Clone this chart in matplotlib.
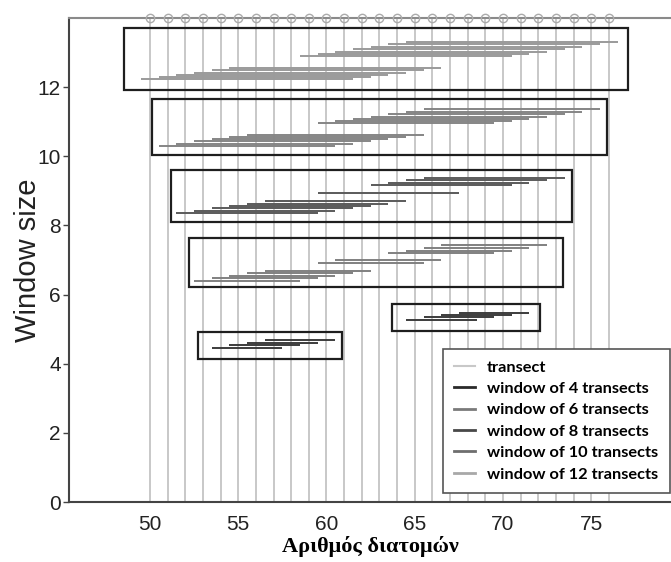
import matplotlib
matplotlib.use("Agg")
import matplotlib.pyplot as plt
from matplotlib.patches import Rectangle
from matplotlib.lines import Line2D
import numpy as np

# ---------------------------------------------------------------------------
# Data
# ---------------------------------------------------------------------------

transects = list(range(50, 77))   # transect numbers
top_level = 14

# window of 4 transects: first transect of each window and its plotted level
w4_start = [54, 55, 56, 57, 65, 66, 67, 68]
w4_level = [4.46, 4.53, 4.61, 4.68, 5.27, 5.34, 5.41, 5.48]

w6_start = [53, 54, 55, 56, 57, 60, 61, 64, 65, 66, 67]
w6_level = [6.39, 6.47, 6.54, 6.61, 6.69, 6.92, 7.00, 7.20, 7.27, 7.35, 7.43]

w8_start = [52, 53, 54, 55, 56, 57, 60, 63, 64, 65, 66]
w8_level = [8.35, 8.41, 8.49, 8.56, 8.63, 8.70, 8.94, 9.16, 9.23, 9.30, 9.37]

w10_start = [51, 52, 53, 54, 55, 56, 60, 61, 62, 63, 64, 65, 66]
w10_level = [10.29, 10.36, 10.43, 10.49, 10.56, 10.63,
             10.96, 11.01, 11.08, 11.14, 11.21, 11.28, 11.36]

w12_start = [50, 51, 52, 53, 54, 55, 59, 60, 61, 62, 63, 64, 65]
w12_level = [12.23, 12.29, 12.36, 12.42, 12.49, 12.56,
             12.89, 12.96, 13.03, 13.09, 13.16, 13.24, 13.31]

# group boxes: x0, x1, y0, y1
box_x0 = [52.7, 63.7, 52.2, 51.2, 50.1, 48.5]
box_x1 = [60.9, 72.1, 73.4, 73.9, 75.9, 77.1]
box_y0 = [4.14, 4.96, 6.22, 8.10, 10.03, 11.91]
box_y1 = [4.93, 5.74, 7.63, 9.60, 11.65, 13.71]

xticks = [50, 55, 60, 65, 70, 75]
yticks = [0, 2, 4, 6, 8, 10, 12]

# ---------------------------------------------------------------------------
# Style
# ---------------------------------------------------------------------------

TRANSECT = "#c8c8c8"
SPINE = "#444444"
TXT = "#222222"
series = [
    (4,  w4_start,  w4_level,  "#3c3c3c", "#2a2a2a"),
    (6,  w6_start,  w6_level,  "#808080", "#7a7a7a"),
    (8,  w8_start,  w8_level,  "#5a5a5a", "#484848"),
    (10, w10_start, w10_level, "#858585", "#6e6e6e"),
    (12, w12_start, w12_level, "#9a9a9a", "#a8a8a8"),
]

fig = plt.figure(figsize=(6.71, 5.62), dpi=100)
ax = fig.add_axes([69 / 671, 1 - 502 / 562, 1 - 69 / 671, (502 - 18) / 562])

# transects
ax.vlines(transects, 0, top_level, color=TRANSECT, lw=1.4, zorder=1)
ax.plot(transects, [top_level] * len(transects), "o", ms=6,
        mfc="none", mec="#ababab", mew=1.0, clip_on=False, zorder=5)

# windows
for w, starts, levels, col, _ in series:
    s = np.array(starts, dtype=float)
    ax.hlines(levels, s - 0.5, s + w - 0.5, color=col, lw=1.4, zorder=3)

# boxes
for x0, x1, y0, y1 in zip(box_x0, box_x1, box_y0, box_y1):
    ax.add_patch(Rectangle((x0, y0), x1 - x0, y1 - y0, fill=False,
                           ec="#1e1e1e", lw=1.6, zorder=4))

ax.set_xlim(45.41, 79.52)
ax.set_ylim(0, top_level)

for side in ["left", "bottom"]:
    ax.spines[side].set_color(SPINE)
    ax.spines[side].set_linewidth(1.5)
ax.spines["top"].set_color("#8a8a8a")
ax.spines["top"].set_linewidth(1.5)
ax.spines["right"].set_visible(False)

ax.set_xticks(xticks)
ax.set_yticks(yticks)
ax.tick_params(axis="x", length=0, pad=9, labelsize=15, labelcolor=TXT)
ax.tick_params(axis="y", length=4, width=1, color=SPINE, pad=2,
               labelsize=15, labelcolor=TXT)
for lab in ax.get_xticklabels() + ax.get_yticklabels():
    lab.set_family("Liberation Sans")

ax.set_ylabel("Window size", fontsize=21, family="Liberation Sans",
              color=TXT, labelpad=-3.5)
ax.set_xlabel("Αριθμός διατομών", fontsize=16, family="Liberation Serif",
              fontweight="bold", color="black", labelpad=2)

handles = [Line2D([], [], color=TRANSECT, lw=1.5)]
labels = ["transect"]
for w, _, _, _, lcol in series:
    handles.append(Line2D([], [], color=lcol, lw=2))
    labels.append(f"window of {w} transects")

leg = ax.legend(handles, labels, loc="lower left",
                bbox_to_anchor=((443 - 69) / (671 - 69), (502 - 493) / 484),
                prop={"family": "Lato", "weight": "bold", "size": 11.8},
                frameon=True, fancybox=False, framealpha=1,
                edgecolor="#555555", handlelength=1.28, handletextpad=0.71,
                labelspacing=0.42, borderpad=0.7, borderaxespad=0)
leg.get_frame().set_linewidth(1.2)
leg.set_zorder(10)

fig.savefig("out.png", dpi=100)
